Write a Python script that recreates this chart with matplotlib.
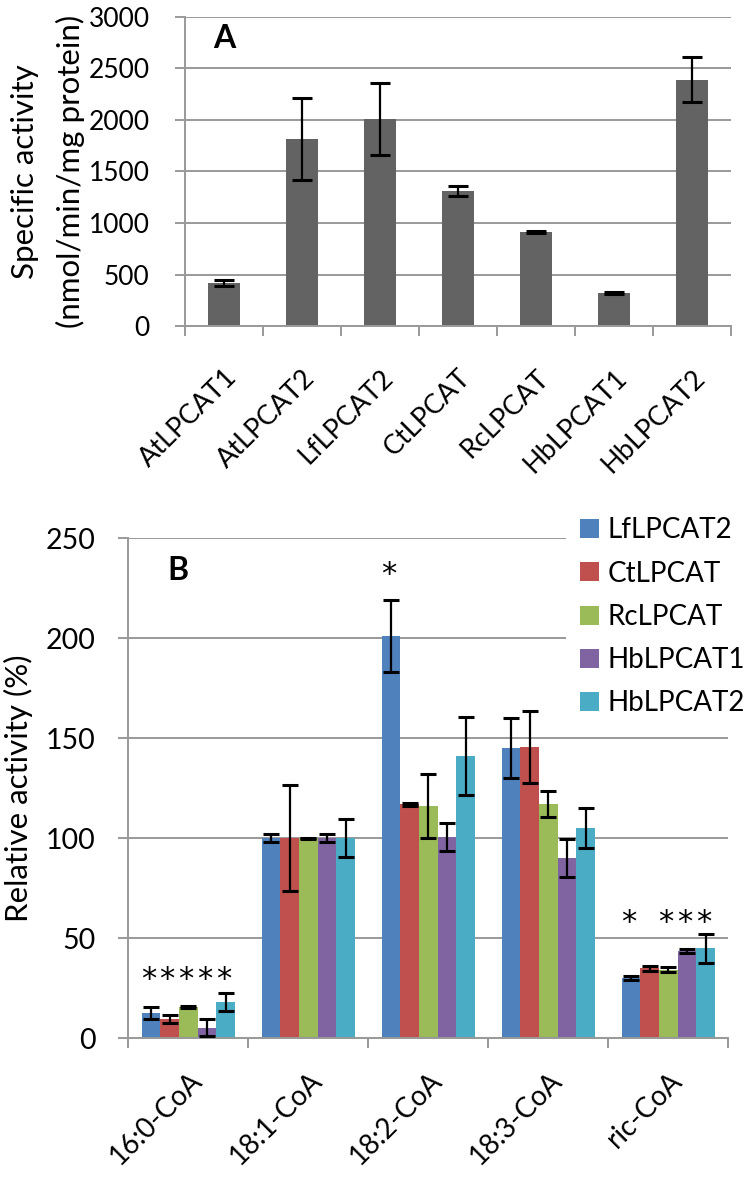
import numpy as np
import matplotlib.pyplot as plt

plt.rcParams['font.family'] = ['Lato', 'DejaVu Sans']

# panel A data
enzymes_a = ['AtLPCAT1', 'AtLPCAT2', 'LfLPCAT2', 'CtLPCAT', 'RcLPCAT', 'HbLPCAT1', 'HbLPCAT2']
activity_a = [415, 1815, 2010, 1310, 912, 318, 2392]
err_a = [30, 395, 348, 45, 8, 8, 222]

# panel B data
substrates = ['16:0-CoA', '18:1-CoA', '18:2-CoA', '18:3-CoA', 'ric-CoA']
series_names = ['LfLPCAT2', 'CtLPCAT', 'RcLPCAT', 'HbLPCAT1', 'HbLPCAT2']
lf = [12.5, 100, 201, 145, 30.3]
lf_err = [3, 2, 18, 15, 1]
ct = [9.7, 100, 117, 145.7, 35]
ct_err = [2.2, 26.5, 0.6, 18, 1.2]
rc = [15.8, 100, 116, 117, 34.3]
rc_err = [0.6, 0.3, 16, 6.5, 1.2]
hb1 = [5.3, 100, 100.5, 90, 43.7]
hb1_err = [4.2, 2, 7, 9.5, 0.8]
hb2 = [18.2, 100, 141, 105, 45]
hb2_err = [4.6, 9.5, 19.5, 10, 7.3]
# significance stars (1 = star over that series) and their baseline height
stars = [[1, 1, 1, 1, 1], [0, 0, 0, 0, 0], [1, 0, 0, 0, 0], [0, 0, 0, 0, 0], [1, 0, 1, 1, 1]]
star_y = [25, 0, 227.5, 0, 53.5]

colors = ['#4F81BD', '#C0504D', '#9BBB59', '#8064A2', '#4BACC6']
grey = '#999999'

fig = plt.figure(figsize=(7.5, 11.77), dpi=100)


def style_axes(ax, n, ypad, xpad):
    for s in ['top', 'right']:
        ax.spines[s].set_visible(False)
    for s in ['left', 'bottom']:
        ax.spines[s].set_color(grey)
        ax.spines[s].set_linewidth(1.4)
    ax.yaxis.grid(True, color=grey, linewidth=1.4)
    ax.set_axisbelow(True)
    ax.set_xlim(-0.5, n - 0.5)
    # ticks on category boundaries, labels at centres
    ax.set_xticks(np.arange(n + 1) - 0.5)
    ax.set_xticklabels([])
    ax.set_xticks(np.arange(n), minor=True)
    ax.tick_params(axis='x', which='major', length=7.5, width=1.4, color=grey)
    ax.tick_params(axis='x', which='minor', length=0, pad=xpad)
    ax.tick_params(axis='y', length=7.5, width=1.4, color=grey, pad=ypad)


# ---- panel A ----
axA = fig.add_axes([0.2467, 0.7230, 0.728, 0.2626])
x = np.arange(len(enzymes_a))
axA.bar(x, activity_a, width=0.41, color='#636363', zorder=2)
axA.errorbar(x, activity_a, yerr=err_a, fmt='none', ecolor='black',
             elinewidth=1.6, capsize=7.5, capthick=2.2, zorder=3)
style_axes(axA, len(enzymes_a), 18, 28)
axA.set_ylim(0, 3000)
axA.set_yticks(np.arange(0, 3001, 500))
axA.tick_params(axis='y', labelsize=19)
axA.set_xticklabels(enzymes_a, minor=True, rotation=45, ha='right', va='top',
                    rotation_mode='anchor', fontsize=19.5)
axA.set_ylabel('Specific activity\n(nmol/min/mg protein)', fontsize=22.5,
               linespacing=1.7)
axA.yaxis.set_label_coords(-0.183, 0.5)
axA.text(0.052, 0.93, 'A', transform=axA.transAxes, fontsize=23,
         fontweight='bold', ha='left', va='center')

# ---- panel B ----
axB = fig.add_axes([0.1711, 0.1178, 0.8, 0.4248])
vals = [lf, ct, rc, hb1, hb2]
errs = [lf_err, ct_err, rc_err, hb1_err, hb2_err]
w = 0.156
xb = np.arange(len(substrates))
for j in range(5):
    pos = xb + (j - 2) * w
    axB.bar(pos, vals[j], width=w, color=colors[j], label=series_names[j], zorder=2)
    axB.errorbar(pos, vals[j], yerr=errs[j], fmt='none', ecolor='black',
                 elinewidth=1.6, capsize=5.5, capthick=2.2, zorder=3)
for i in range(len(substrates)):
    for j in range(5):
        if stars[i][j]:
            axB.text(xb[i] + (j - 2) * w - 0.02, star_y[i], '*', ha='center',
                     va='baseline', fontsize=22, family='DejaVu Sans')
style_axes(axB, len(substrates), 16, 21)
axB.set_ylim(0, 250)
axB.set_yticks(np.arange(0, 251, 50))
axB.tick_params(axis='y', labelsize=20.5)
axB.set_xticklabels(substrates, minor=True, rotation=45, ha='right', va='top',
                    rotation_mode='anchor', fontsize=20)
axB.set_ylabel('Relative activity (%)', fontsize=22.5)
axB.yaxis.set_label_coords(-0.159, 0.5)
axB.text(0.065, 0.935, 'B', transform=axB.transAxes, fontsize=23,
         fontweight='bold', ha='left', va='center')
leg = axB.legend(loc='upper left', bbox_to_anchor=(0.7547, 0.5722),
                 bbox_transform=fig.transFigure, fontsize=20,
                 frameon=True, framealpha=1, facecolor='white', edgecolor='none',
                 handlelength=0.68, handleheight=0.68, handletextpad=0.32,
                 labelspacing=0.62, borderpad=0.5, borderaxespad=0)
leg.get_frame().set_linewidth(0)

fig.savefig('out.png', dpi=100)
